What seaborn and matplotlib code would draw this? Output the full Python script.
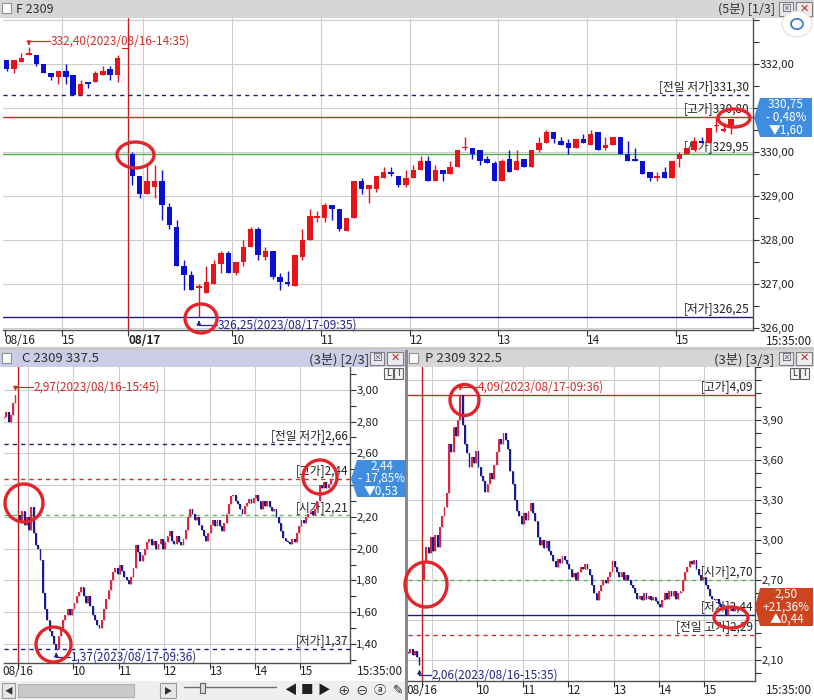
import numpy as np
import matplotlib
matplotlib.use("Agg")
import matplotlib.pyplot as plt
import seaborn as sns
import matplotlib.transforms as mtransforms
from matplotlib.patches import Rectangle, Ellipse, Polygon, Circle
from matplotlib.lines import Line2D
from matplotlib.ticker import FuncFormatter, FixedLocator

sns.set_theme(style="white")
plt.rcParams['font.family'] = ['Noto Sans CJK KR', 'DejaVu Sans']
plt.rcParams['axes.unicode_minus'] = False

# ---------------- DATA ----------------
# F 2309 (5-minute candles) : 08/16 tail + 08/17 session
f16_open = [332.10, 331.90, 332.05, 332.20, 332.20, 332.00, 331.80, 331.70, 331.85, 331.75,
            331.30, 331.60, 331.60, 331.75, 331.90, 331.75, 332.35]
f16_high = [332.10, 332.10, 332.25, 332.40, 332.20, 332.00, 331.80, 331.85, 332.00, 331.75,
            331.65, 331.60, 331.85, 331.95, 331.95, 332.20, 332.35]
f16_low = [331.85, 331.80, 332.05, 332.20, 331.95, 331.80, 331.65, 331.55, 331.55, 331.30,
           331.30, 331.45, 331.60, 331.75, 331.65, 331.60, 332.35]
f16_close = [331.90, 332.10, 332.15, 332.25, 332.00, 331.80, 331.70, 331.85, 331.70, 331.30,
             331.55, 331.55, 331.80, 331.85, 331.75, 332.15, 332.35]

f17_open = [329.95, 329.45, 329.05, 329.20, 329.35, 328.75, 328.30, 327.40, 327.20, 326.90,
            326.80, 327.00, 327.45, 327.70, 327.25, 327.50, 327.85, 328.25, 327.60, 327.75,
            327.15, 327.05, 326.95, 327.60, 328.00, 328.50, 328.50, 328.80, 328.70, 328.20,
            328.50, 329.35, 329.15, 329.15, 329.40, 329.55, 329.45, 329.25, 329.40, 329.60,
            329.80, 329.35, 329.60, 329.50, 329.65, 330.10, 330.10, 330.05, 329.85, 329.75,
            329.35, 329.85, 329.60, 329.85, 329.65, 330.05, 330.20, 330.45, 330.25, 330.20,
            330.10, 330.30, 330.15, 330.45, 330.10, 330.15, 330.35, 329.95, 329.85, 329.80,
            329.55, 329.40, 329.55, 329.40, 329.85, 329.95, 330.05, 330.25, 330.20, 330.60,
            330.50, 330.60]
f17_high = [330.00, 329.45, 329.70, 329.70, 329.60, 328.85, 328.45, 327.55, 327.30, 327.00,
            327.40, 327.55, 327.75, 327.75, 327.50, 328.00, 328.30, 328.30, 327.85, 327.75,
            327.25, 327.30, 327.65, 328.25, 328.70, 328.65, 328.85, 328.80, 328.70, 328.50,
            329.35, 329.40, 329.25, 329.45, 329.65, 329.65, 329.45, 329.60, 329.70, 329.90,
            329.90, 329.70, 329.60, 329.80, 330.05, 330.35, 330.10, 330.05, 329.90, 329.80,
            329.85, 330.05, 330.05, 329.85, 330.05, 330.35, 330.50, 330.45, 330.35, 330.30,
            330.30, 330.40, 330.50, 330.45, 330.35, 330.35, 330.35, 330.25, 330.10, 329.80,
            329.55, 329.55, 329.65, 329.80, 330.00, 330.10, 330.35, 330.35, 330.55, 330.80,
            330.65, 330.75]
f17_low = [329.25, 328.95, 329.05, 328.95, 328.45, 328.25, 327.40, 326.85, 326.85, 326.25,
           326.80, 327.00, 327.25, 327.25, 327.20, 327.40, 327.85, 327.55, 327.55, 327.10,
           326.85, 326.95, 326.95, 327.55, 328.00, 328.40, 328.40, 328.45, 328.20, 328.20,
           328.50, 329.05, 328.85, 329.10, 329.40, 329.45, 329.20, 329.20, 329.40, 329.60,
           329.35, 329.35, 329.35, 329.50, 329.65, 330.05, 329.85, 329.70, 329.75, 329.35,
           329.35, 329.55, 329.60, 329.65, 329.65, 330.00, 330.20, 330.20, 330.15, 329.95,
           330.10, 330.20, 330.15, 330.05, 330.05, 330.15, 329.95, 329.80, 329.80, 329.50,
           329.35, 329.35, 329.40, 329.40, 329.65, 329.95, 330.05, 330.20, 330.20, 330.45,
           330.45, 330.40]
f17_close = [329.45, 329.05, 329.35, 329.35, 328.80, 328.35, 327.40, 327.20, 326.85, 326.95,
             327.05, 327.45, 327.70, 327.25, 327.50, 327.85, 328.25, 327.65, 327.75, 327.15,
             327.05, 327.00, 327.65, 328.00, 328.55, 328.55, 328.80, 328.70, 328.25, 328.50,
             329.35, 329.15, 329.25, 329.45, 329.55, 329.50, 329.25, 329.40, 329.60, 329.80,
             329.35, 329.60, 329.50, 329.65, 330.05, 330.10, 329.95, 329.80, 329.75, 329.35,
             329.80, 329.55, 329.80, 329.65, 330.05, 330.20, 330.45, 330.30, 330.15, 330.10,
             330.30, 330.20, 330.40, 330.05, 330.15, 330.35, 329.95, 329.80, 329.80, 329.50,
             329.40, 329.45, 329.40, 329.80, 329.95, 330.10, 330.25, 330.20, 330.55, 330.60,
             330.50, 330.75]

# C 2309 337.5 (3-minute bars, closes)
c16_open0 = 2.82
c16_close = [2.83, 2.86, 2.80, 2.84, 2.92, 2.97]
c17_open0 = 2.21
c17_close = [2.18, 2.24, 2.15, 2.20, 2.12, 2.26, 2.10, 2.02, 2.00, 1.93,
             1.72, 1.62, 1.55, 1.48, 1.45, 1.40, 1.37, 1.45, 1.50, 1.55,
             1.58, 1.62, 1.58, 1.62, 1.66, 1.70, 1.73, 1.76, 1.70, 1.66,
             1.70, 1.64, 1.58, 1.55, 1.52, 1.50, 1.55, 1.62, 1.68, 1.74,
             1.80, 1.85, 1.88, 1.84, 1.90, 1.86, 1.82, 1.80, 1.78, 1.82,
             1.88, 2.02, 1.98, 1.92, 1.96, 2.00, 2.04, 2.06, 2.02, 2.05,
             2.00, 2.03, 2.06, 2.00, 2.04, 2.08, 2.11, 2.05, 2.03, 2.08,
             2.04, 2.02, 2.06, 2.12, 2.20, 2.25, 2.22, 2.18, 2.20, 2.15,
             2.12, 2.08, 2.05, 2.10, 2.15, 2.18, 2.14, 2.18, 2.14, 2.11,
             2.16, 2.22, 2.28, 2.33, 2.34, 2.30, 2.28, 2.25, 2.22, 2.27,
             2.29, 2.31, 2.29, 2.32, 2.34, 2.30, 2.25, 2.30, 2.27, 2.30,
             2.26, 2.24, 2.25, 2.20, 2.16, 2.11, 2.07, 2.05, 2.04, 2.03,
             2.06, 2.04, 2.10, 2.14, 2.18, 2.16, 2.20, 2.22, 2.24, 2.21,
             2.25, 2.30, 2.40, 2.38, 2.42, 2.38, 2.41, 2.44]

# P 2309 322.5 (3-minute bars, closes)
p16_open0 = 2.16
p16_close = [2.15, 2.18, 2.14, 2.17, 2.12, 2.06]
p17_open0 = 2.70
p17_close = [2.84, 2.95, 2.90, 3.02, 2.92, 3.04, 2.95, 3.10, 3.18, 3.25,
             3.35, 3.72, 3.66, 3.85, 3.78, 3.90, 4.09, 3.86, 3.72, 3.65,
             3.55, 3.62, 3.58, 3.67, 3.55, 3.48, 3.44, 3.36, 3.42, 3.50,
             3.46, 3.56, 3.66, 3.76, 3.72, 3.80, 3.75, 3.68, 3.52, 3.42,
             3.30, 3.22, 3.18, 3.12, 3.20, 3.15, 3.22, 3.28, 3.20, 3.14,
             3.02, 2.96, 3.00, 2.94, 2.99, 2.92, 2.89, 2.84, 2.80, 2.86,
             2.83, 2.88, 2.85, 2.82, 2.78, 2.72, 2.75, 2.70, 2.76, 2.80,
             2.78, 2.82, 2.78, 2.74, 2.66, 2.60, 2.55, 2.62, 2.66, 2.70,
             2.68, 2.72, 2.76, 2.84, 2.80, 2.76, 2.72, 2.76, 2.70, 2.74,
             2.70, 2.66, 2.64, 2.60, 2.56, 2.58, 2.55, 2.60, 2.56, 2.58,
             2.55, 2.57, 2.54, 2.52, 2.50, 2.55, 2.60, 2.56, 2.62, 2.58,
             2.62, 2.56, 2.60, 2.62, 2.70, 2.76, 2.80, 2.84, 2.82, 2.85,
             2.78, 2.74, 2.70, 2.72, 2.66, 2.63, 2.58, 2.56, 2.55, 2.56,
             2.52, 2.50, 2.48, 2.44, 2.48, 2.50, 2.47, 2.50]

# reference levels
f_levels = [(331.30, "[전일 저가]331,30", "navy_dash"), (330.80, "[고가]330,80", "red"),
            (329.95, "[시가]329,95", "green"), (326.25, "[저가]326,25", "navy")]
c_levels = [(2.66, "[전일 저가]2,66", "navy_dash"), (2.44, "[고가]2,44", "red_dash"),
            (2.21, "[시가]2,21", "green_dash"), (1.37, "[저가]1,37", "navy_dash")]
p_levels = [(4.09, "[고가]4,09", "red"), (2.70, "[시가]2,70", "green_dash"),
            (2.44, "[저가]2,44", "navy"), (2.29, "[전일 고가]2,29", "red_dash")]

hour_labels = ["10", "11", "12", "13", "14", "15"]

# ---------------- FIGURE ----------------
W, H = 814, 700
fig = plt.figure(figsize=(W / 100, H / 100), dpi=100)
fig.patch.set_facecolor("white")


def fx(x):
    return x / W


def fy(y):
    return 1 - y / H


def rect_px(x0, y0, x1, y1):
    return [fx(x0), fy(y1), (x1 - x0) / W, (y1 - y0) / H]


def frect(x0, y0, x1, y1, fc, ec="none", lw=0.8, z=1):
    fig.add_artist(Rectangle((fx(x0), fy(y1)), (x1 - x0) / W, (y1 - y0) / H,
                             transform=fig.transFigure, facecolor=fc, edgecolor=ec,
                             linewidth=lw, zorder=z))


LINESTY = {
    "navy_dash": dict(color="#1c1c7a", ls=(0, (3, 3)), lw=1.0),
    "navy": dict(color="#1c1c7a", ls="-", lw=1.0),
    "red": dict(color="#d02828", ls="-", lw=1.0),
    "red_dash": dict(color="#c83030", ls=(0, (3, 3)), lw=1.0),
    "green": dict(color="#4caf4c", ls="-", lw=1.0),
    "green_dash": dict(color="#5cb85c", ls=(0, (3, 3)), lw=1.0),
}

fmt = FuncFormatter(lambda v, p: f"{v:.2f}".replace(".", ","))


def style_panel(ax, xlim, ylim, hgrid, vgrid, major, minor, redx):
    ax.set_xlim(*xlim)
    ax.set_ylim(*ylim)
    ax.set_facecolor("white")
    for v in hgrid:
        ax.axhline(v, color="#cdcdcd", lw=0.8, zorder=0)
    for v in vgrid:
        ax.axvline(v, color="#cdcdcd", lw=0.8, zorder=0)
    ax.axvline(redx, color="#c82020", lw=1.0, zorder=1)
    ax.yaxis.tick_right()
    ax.yaxis.set_major_locator(FixedLocator(major))
    ax.yaxis.set_minor_locator(FixedLocator(minor))
    ax.yaxis.set_major_formatter(fmt)
    ax.tick_params(axis="y", which="both", right=True, left=False, direction="out",
                   color="#303030", width=0.8, length=4, labelsize=8.2, pad=0.5,
                   labelcolor="#202020")
    for s in ["left", "top"]:
        ax.spines[s].set_visible(False)
    for s in ["right", "bottom"]:
        ax.spines[s].set_color("#505050")
        ax.spines[s].set_linewidth(1.0)
    ax.grid(False)


def x_labels(ax, items, ypx):
    tr = mtransforms.blended_transform_factory(ax.transData, fig.transFigure)
    pos = [p for p, _, _, _ in items]
    ax.set_xticks(pos)
    ax.set_xticklabels([])
    ax.tick_params(axis="x", bottom=True, direction="out", length=4, width=0.8, color="#303030")
    for p, lab, ha, bold in items:
        ax.text(p, fy(ypx), lab, transform=tr, ha=ha, va="center", fontsize=8.5,
                fontweight="bold" if bold else "normal", color="#202020")


def levels(ax, lv, fs=8.5):
    for val, lab, st in lv:
        ax.axhline(val, zorder=2, **LINESTY[st])
        ax.annotate(lab, xy=(0.995, val), xycoords=("axes fraction", "data"),
                    xytext=(0, 1.2), textcoords="offset points", ha="right", va="bottom",
                    fontsize=fs, color="#202020", zorder=2)


def candles(ax, x, o, h, l, c, up, dn, width, wlw, minh):
    o, h, l, c = map(np.asarray, (o, h, l, c))
    col = np.where(c >= o, up, dn)
    ax.vlines(x, l, h, colors=col, lw=wlw, zorder=3)
    body = np.abs(c - o)
    hgt = np.maximum(body, minh)
    bot = np.minimum(o, c) - (hgt - body) / 2
    ax.bar(x, hgt, width=width, bottom=bot, color=col, edgecolor="none", linewidth=0, zorder=4)


def close_bars(ax, x, open0, close, up, dn, width, minh):
    close = np.asarray(close)
    opn = np.concatenate([[open0], close[:-1]])
    hi = np.maximum(opn, close)
    lo = np.minimum(opn, close)
    candles(ax, x, opn, hi, lo, close, up, dn, width, 1.0, minh)


def arrow_note(ax, xbar, ybar, yline, xtext, text, color):
    ax.plot([xbar, xtext - 0.1], [yline, yline], color=color, lw=0.9, zorder=5)
    ax.annotate("", xy=(xbar, ybar), xytext=(xbar, yline),
                arrowprops=dict(arrowstyle="-|>", color=color, lw=0.9, mutation_scale=6), zorder=5)
    ax.text(xtext, yline, text, color=color, fontsize=8.5, ha="left", va="center", zorder=5)


# ---------------- TOP PANEL: F 2309 ----------------
ax_f = fig.add_axes(rect_px(3, 18, 753, 330))
n16 = len(f16_close)
xf16 = np.arange(n16)
xf17 = np.arange(n16, n16 + len(f17_close))
style_panel(ax_f, (-0.5, 100.96), (325.95, 333.05), np.arange(326, 334, 1.0),
            [7.5, 18.5, 30.5, 42.5, 54.5, 66.5, 78.5, 90.5],
            [326, 327, 328, 329, 330, 332], np.arange(326, 333.01, 0.5), 16.45)
levels(ax_f, f_levels)
F_UP, F_DN = "#e8141c", "#0a0fd0"
candles(ax_f, xf16, f16_open, f16_high, f16_low, f16_close, F_UP, F_DN, 0.74, 1.0, 0.03)
candles(ax_f, xf17, f17_open, f17_high, f17_low, f17_close, F_UP, F_DN, 0.74, 1.0, 0.03)
x_labels(ax_f, [(-0.27, "08/16", "left", False), (7.5, "15", "left", False),
                (16.45, "08/17", "left", True)] +
         [(30.5 + 12 * k, lab, "left", False) for k, lab in enumerate(hour_labels)], 340.5)
fig.text(fx(812), fy(341.5), "15:35:00", ha="right", va="center", fontsize=8.5, color="#202020")
arrow_note(ax_f, 3, 332.42, 332.52, 5.9, "332,40(2023/08/16-14:35)", "#d42a2a")
arrow_note(ax_f, 26, 326.23, 326.07, 28.5, "326,25(2023/08/17-09:35)", "#24248a")

# ---------------- C PANEL ----------------
ax_c = fig.add_axes(rect_px(4, 366, 350, 662.5))
BAR_UP, BAR_DN = "#d42a46", "#1a1a90"
style_panel(ax_c, (-7.05, 145.4), (1.283, 3.150), np.arange(1.4, 3.01, 0.2),
            [3.5 + 20 * k for k in range(7)],
            [1.4, 1.6, 1.8, 2.0, 2.2, 2.6, 2.8, 3.0], np.arange(1.3, 3.11, 0.1), -0.75)
levels(ax_c, c_levels)
close_bars(ax_c, np.arange(-len(c16_close), 0) - 1, c16_open0, c16_close, BAR_UP, BAR_DN, 0.8, 0.008)
close_bars(ax_c, np.arange(len(c17_close)), c17_open0, c17_close, BAR_UP, BAR_DN, 0.8, 0.008)
x_labels(ax_c, [(-0.75, "08/16", "center", False)] +
         [(23.5 + 20 * k, lab, "left", False) for k, lab in enumerate(hour_labels)], 671.5)
fig.text(fx(403), fy(671.5), "15:35:00", ha="right", va="center", fontsize=8.5, color="#202020")
arrow_note(ax_c, -2, 2.975, 3.02, 5.9, "2,97(2023/08/16-15:45)", "#d42a2a")
arrow_note(ax_c, 16, 1.365, 1.316, 22.3, "1,37(2023/08/17-09:36)", "#24248a")

# ---------------- P PANEL ----------------
ax_p = fig.add_axes(rect_px(408, 366, 755, 681))
style_panel(ax_p, (-7.05, 145.8), (1.942, 4.305), np.arange(2.1, 4.21, 0.3),
            [3.5 + 20 * k for k in range(7)],
            [2.1, 2.7, 3.0, 3.3, 3.6, 3.9], np.arange(2.0, 4.31, 0.1), -0.75)
levels(ax_p, p_levels)
close_bars(ax_p, np.arange(-len(p16_close), 0) - 1, p16_open0, p16_close, BAR_UP, BAR_DN, 0.8, 0.009)
close_bars(ax_p, np.arange(len(p17_close)), p17_open0, p17_close, BAR_UP, BAR_DN, 0.8, 0.009)
x_labels(ax_p, [(-0.75, "08/16", "center", False)] +
         [(23.5 + 20 * k, lab, "left", False) for k, lab in enumerate(hour_labels)], 690)
fig.text(fx(812), fy(690), "15:35:00", ha="right", va="center", fontsize=8.5, color="#202020")
arrow_note(ax_p, 16, 4.10, 4.15, 23.7, "4,09(2023/08/17-09:36)", "#d42a2a")
arrow_note(ax_p, -2, 2.05, 1.987, 3.4, "2,06(2023/08/16-15:35)", "#24248a")


# ---------------- CHROME ----------------
def title_bar(x0, y0, x1, y1, color, ltxt, rtxt, rt_x, lx, fs):
    frect(x0, y0, x1, y1, color, z=1)
    frect(x0 + 2, y0 + 3, x0 + 11, y0 + 13, "white", ec="#909090", z=2)
    fig.text(fx(lx), fy((y0 + y1) / 2 + 0.5), ltxt, ha="left", va="center", fontsize=fs,
             color="#303030", zorder=3)
    fig.text(fx(rt_x), fy((y0 + y1) / 2 + 0.5), rtxt, ha="right", va="center", fontsize=fs,
             color="#303030", zorder=3)
    frect(x1 - 35, y0 + 2, x1 - 21, y1 - 2, "#e8e8f0", ec="#808080", z=2)
    fig.text(fx(x1 - 28), fy((y0 + y1) / 2), "⊠", ha="center", va="center", fontsize=7,
             color="#505060", zorder=3)
    frect(x1 - 18, y0 + 2, x1 - 2, y1 - 2, "#ececec", ec="#808080", z=2)
    fig.text(fx(x1 - 10), fy((y0 + y1) / 2), "✕", ha="center", va="center", fontsize=8,
             color="#c02828", zorder=3)


title_bar(0, 0, 814, 18, "#d6d6d6", "F 2309", "(5분) [1/3]", 775, 16, 9)
frect(0, 346.5, 814, 350, "#c8c8c8", z=1)
title_bar(0, 350, 405, 366.5, "#cbcde6", "C 2309 337.5", "(3분) [2/3]", 369, 22, 9.5)
title_bar(407, 350, 814, 366.5, "#d6d6d6", "P 2309 322.5", "(3분) [3/3]", 774, 425, 9.5)
frect(405, 350, 407.5, 700, "#8a8a8a", z=2)

# L|I buttons
for bx in (384, 790):
    frect(bx, 368, bx + 9, 379, "#f4f4f4", ec="#606060", z=2)
    frect(bx + 10, 368, bx + 19, 379, "#f4f4f4", ec="#606060", z=2)
    fig.text(fx(bx + 4.5), fy(373.5), "L", ha="center", va="center", fontsize=6.5, zorder=3)
    fig.text(fx(bx + 14.5), fy(373.5), "I", ha="center", va="center", fontsize=6.5, zorder=3)

# floating widget top right
fig.add_artist(Circle((fx(797), fy(24)), 15 / W, transform=fig.transFigure, facecolor="white",
                      edgecolor="#e0e0e0", lw=0.8, zorder=4))
fig.add_artist(Circle((fx(797), fy(24)), 6 / W, transform=fig.transFigure, facecolor="none",
                      edgecolor="#3a7bd5", lw=1.3, zorder=5))

# scrollbar at bottom of C panel
frect(0, 681, 405, 700, "#efefef", z=1)
frect(2, 683, 15, 698, "#e6e6e6", ec="#9a9a9a", z=2)
fig.text(fx(8.5), fy(690.5), "◀", ha="center", va="center", fontsize=6, color="#303030", zorder=3)
frect(18, 684, 134, 697, "#c9c9c9", ec="#b0b0b0", z=2)
frect(160, 683, 176, 698, "#e6e6e6", ec="#9a9a9a", z=2)
fig.text(fx(168), fy(690.5), "▶", ha="center", va="center", fontsize=6, color="#303030", zorder=3)
fig.add_artist(Line2D([fx(184), fx(276)], [fy(687), fy(687)], transform=fig.transFigure,
                      color="#707070", lw=1.0, zorder=3))
frect(200, 683, 205, 693, "#dcdcdc", ec="#606060", z=3)
for gx, g in [(290, "◀"), (307, "■"), (324, "▶"), (344, "⊕"), (362, "⊖"), (380, "ⓐ"), (398, "✎")]:
    fig.text(fx(gx), fy(690.5), g, ha="center", va="center", fontsize=9, color="#202020", zorder=3)


# price boxes
def price_box(tip_x, tip_y, x0, y0, x1, y1, color, lines):
    pts = [(fx(tip_x), fy(tip_y)), (fx(x0), fy(y0)), (fx(x1), fy(y0)), (fx(x1), fy(y1)), (fx(x0), fy(y1))]
    fig.add_artist(Polygon(pts, closed=True, transform=fig.transFigure, facecolor=color,
                           edgecolor="none", zorder=5))
    n = len(lines)
    for k, t in enumerate(lines):
        yy = y0 + (y1 - y0) * (k + 0.5) / n
        fig.text(fx((x0 + x1) / 2), fy(yy), t, ha="center", va="center", fontsize=8.5,
                 color="white", zorder=6)


price_box(754, 118, 760, 98, 812, 137, "#3f8de0", ["330,75", "- 0,48%", "▼1,60"])
price_box(351, 479, 357, 460, 406, 497, "#3f8de0", ["2,44", "- 17,85%", "▼0,53"])
price_box(755, 607, 760, 588, 813, 626, "#cc4420", ["2,50", "+21,36%", "▲0,44"])

# red hand-drawn circles
for cx, cy, w, h in [(135.5, 155, 37, 26), (201, 318.5, 32, 29), (734, 118, 32, 18),
                     (24, 503, 38, 38), (53.5, 644.5, 35, 35), (320, 477, 34, 34),
                     (426, 584.5, 42, 45), (464.5, 400, 29, 31), (731, 617.5, 34, 21)]:
    fig.add_artist(Ellipse((fx(cx), fy(cy)), w / W, h / H, transform=fig.transFigure,
                           facecolor="none", edgecolor="#e3242b", lw=2.4, zorder=7))

fig.savefig("out.png", dpi=100)
